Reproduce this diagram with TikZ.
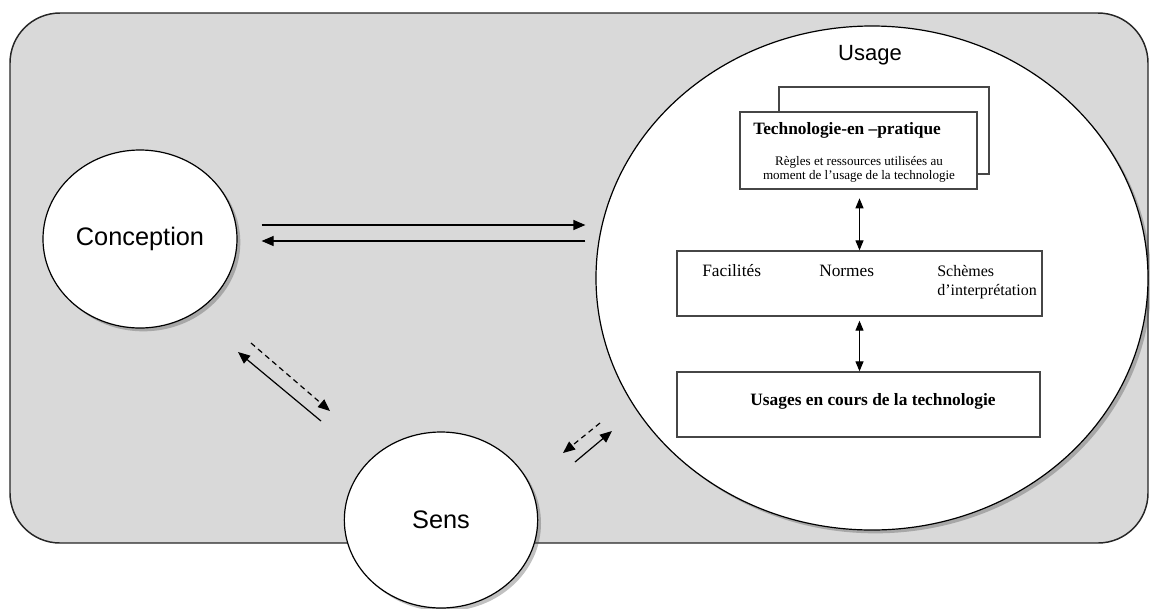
\documentclass[tikz,border=0pt]{standalone}
\usepackage{fontspec}
\setmainfont{Liberation Serif}
\newfontfamily\arialfont{Liberation Sans}
\usetikzlibrary{arrows.meta,positioning,shapes.geometric,shadows,calc}
\definecolor{panelgray}{RGB}{217,217,217}
\definecolor{edgegray}{RGB}{70,70,70}

\begin{document}
\begin{tikzpicture}[
  x=0.75pt, y=-0.75pt,
  panel/.style={rectangle, rounded corners=37.5pt, draw=black!85, line width=1.1pt, fill=panelgray,
                minimum width=853.5pt, minimum height=397.5pt},
  bubble/.style={ellipse, draw=black, line width=0.9pt, fill=white, inner sep=0pt,
                 font=\arialfont\fontsize{19}{22}\selectfont,
                 drop shadow={shadow xshift=2.5pt, shadow yshift=-2.5pt, opacity=0.35, fill=black!70}},
  card/.style={rectangle, draw=edgegray, line width=1pt, fill=white, inner sep=0pt},
  headtxt/.style={font=\bfseries\fontsize{13}{15}\selectfont, inner sep=0pt},
  itemtxt/.style={font=\fontsize{13}{14.25}\selectfont, inner sep=0pt, align=left},
  smalltxt/.style={font=\fontsize{9.8}{10}\selectfont, inner sep=0pt, align=center},
  arr/.style={-{Triangle[length=9pt,width=7.5pt]}, line width=0.9pt},
  dashedarr/.style={arr, dash pattern=on 4pt off 3pt},
  dbl/.style={{Triangle[length=7.5pt,width=6pt]}-{Triangle[length=7.5pt,width=6pt]}, line width=0.9pt},
]
\useasboundingbox (0,0) rectangle (1150,608);

% background panel
\node[panel] (frame) at (579,278) {};

% the three poles
\node[bubble, minimum width=414pt, minimum height=378pt] (usage) at (872,278) {};
\node[font=\arialfont\fontsize{16.5}{19}\selectfont] (usagelbl) at (870,55) {Usage};
\node[bubble, minimum width=145.5pt, minimum height=133.5pt] (conc) at (140,239) {Conception};
\node[bubble, minimum width=145pt, minimum height=132pt] (sens) at (441,520) {Sens};

% boxes inside Usage
\node[card, minimum width=157.5pt, minimum height=65.25pt] (back) at (884,130.5) {};
\node[card, minimum width=177.75pt, minimum height=57.75pt] (tech) at (858.5,150.5) {};
\node[headtxt, anchor=base west] (techtitle) at (753,134) {Technologie-en –pratique};
\node[smalltxt, anchor=base] (techtext) at (859,179) {Règles et ressources utilisées au\\moment de l’usage de la technologie};

\node[card, minimum width=273.75pt, minimum height=48.75pt] (mid) at (859.5,283.5) {};
\node[itemtxt, anchor=base west] (faci) at (702,276) {Facilités};
\node[itemtxt, anchor=base west] (norm) at (819,276) {Normes};
\node[itemtxt, font=\fontsize{12}{14.25}\selectfont, anchor=base west] (schem) at (937,295) {Schèmes\\d’interprétation};

\node[card, minimum width=272.25pt, minimum height=48.75pt] (low) at (858.5,404.5) {};
\node[headtxt, anchor=base] (lowtxt) at (873,405) {Usages en cours de la technologie};

\draw[dbl, shorten <=6.5pt] (tech.south -| mid.north) -- (mid.north);
\draw[dbl, shorten <=3pt] (mid.south) -- (mid.south |- low.north);

% Conception <-> Usage
\draw[arr, shorten <=18pt, shorten >=7.5pt] ([yshift=10.5pt]conc.east) -- ([yshift=39.75pt]usage.west);
\draw[arr, shorten <=7.5pt, shorten >=18pt] ([yshift=27.75pt]usage.west) -- ([yshift=-1.5pt]conc.east);

% Conception <-> Sens
\coordinate (cs1) at (321,421);
\coordinate (cs2) at (238,352);
\coordinate (cs3) at (251,343);
\coordinate (cs4) at (330,411);
\draw[arr] (cs1) -- (cs2);
\draw[dashedarr] (cs3) -- (cs4);

% Sens <-> Usage
\coordinate (su1) at (600,423);
\coordinate (su2) at (563,453);
\coordinate (su3) at (575,462);
\coordinate (su4) at (612,431);
\draw[dashedarr] (su1) -- (su2);
\draw[arr] (su3) -- (su4);
\end{tikzpicture}
\end{document}
